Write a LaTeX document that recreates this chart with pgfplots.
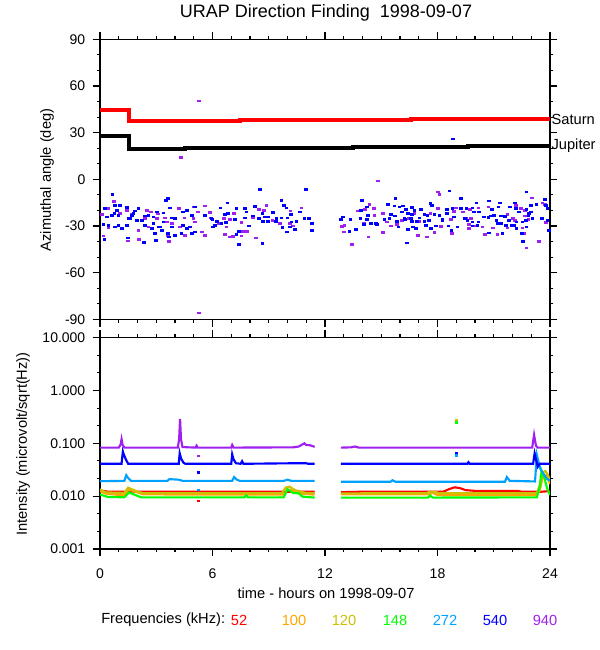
\documentclass[border=0pt]{standalone}
\usepackage{fontspec}
\setmainfont{Liberation Sans}
\usepackage{pgfplots}
\pgfplotsset{compat=1.18}
\definecolor{cRed}{RGB}{255,0,0}
\definecolor{cOrange}{RGB}{255,165,0}
\definecolor{cOlive}{RGB}{204,192,0}
\definecolor{cGreen}{RGB}{0,255,0}
\definecolor{cLBlue}{RGB}{0,160,255}
\definecolor{cBlue}{RGB}{0,0,255}
\definecolor{cPurple}{RGB}{160,32,240}
\pgfplotsset{
  urap/.style={
    scale only axis, width=337.5pt, xmin=0, xmax=24,
    axis line style={line width=0.8pt},
    tick align=outside, major tick length=5.5pt, minor tick length=2.6pt,
    every tick/.style={black, line width=0.8pt},
    xtick={0,6,12,18,24}, minor xtick={1,2,3,4,5,7,8,9,10,11,13,14,15,16,17,19,20,21,22,23},
    tick label style={font=\fontsize{10.5}{12}\selectfont},
    xticklabel style={yshift=-6pt},
    yticklabel style={xshift=-2pt},
    /pgf/number format/assume math mode=true,
    xtick pos=both, ytick pos=both, yticklabel pos=left,
    clip=true,
  },
  dots/.style={only marks, mark=square*, mark size=1pt, mark options={yscale=0.6}},
}
\begin{document}
\begin{tikzpicture}
\path[use as bounding box] (0,0) rectangle (450pt,487.5pt);
% ---------------- top panel
\begin{axis}[urap, at={(75pt,248pt)}, anchor=south west, height=210pt,
  ymin=-90, ymax=90, ytick={-90,-60,-30,0,30,60,90},
  yticklabels={-90,-60,-30,0,30,60,90},
  minor ytick={-80,-70,-50,-40,-20,-10,10,20,40,50,70,80},
  xticklabels={}, clip=false]
\addplot[cPurple, dots] coordinates {
(0.74,-14.0)(0.09,-22.3)(0.41,-18.7)(1.42,-19.8)(1.68,-22.6)(1.06,-21.9)(2.39,-25.1)(2.71,-20.8)(3.07,-22.1)(3.46,-24.7)(3.81,-28.4)(4.20,-18.7)(4.49,-24.7)(4.97,-17.6)(5.23,-20.8)(5.59,-17.0)(5.85,-21.3)(5.90,-24.7)(4.97,-25.1)(5.05,-27.3)(4.26,-30.5)(3.63,-35.9)(0.44,-31.1)(2.04,-32.6)(2.57,-30.5)(3.55,-27.3)(0.18,-36.3)(1.47,-39.5)(2.07,-38.4)(3.67,-39.7)(4.52,-35.9)(5.59,-35.9)(5.41,-33.7)(3.01,-25.1)(2.48,-19.8)
(8.87,-16.6)(8.47,-19.1)(8.72,-19.8)(10.73,-18.3)(10.14,-20.2)(7.15,-21.9)(6.60,-25.1)(6.91,-25.6)(6.35,-28.4)(6.74,-30.5)(7.53,-27.7)(8.16,-24.7)(9.18,-26.2)(9.57,-28.4)(10.11,-28.4)(10.28,-29.9)(7.62,-33.3)(7.84,-33.3)(7.53,-36.3)(7.09,-36.5)(6.91,-36.9)(6.65,-35.4)(8.30,-37.6)
(14.81,-0.9)(18.00,-8.0)(18.09,-9.7)(14.36,-16.1)(14.59,-18.7)(14.13,-19.3)(13.74,-20.2)(14.63,-23.0)(15.07,-21.9)(15.28,-27.3)(15.51,-29.9)(15.83,-29.0)(16.08,-26.2)(16.44,-25.1)(16.76,-21.9)(17.02,-26.9)(17.29,-22.6)(17.61,-21.9)(18.00,-18.7)(18.14,-30.5)(17.82,-34.1)(16.93,-35.9)(17.43,-36.9)(13.03,-29.4)(12.89,-30.1)(13.00,-33.7)(13.42,-41.9)(14.31,-36.9)(15.07,-34.1)(14.06,-28.4)
(23.01,-11.8)(23.58,-15.0)(23.72,-16.1)(22.16,-16.6)(22.43,-18.7)(21.72,-22.6)(22.66,-19.8)(20.71,-17.6)(20.18,-18.3)(18.97,-18.3)(19.72,-19.3)(19.33,-20.8)(19.51,-24.7)(19.77,-25.1)(18.88,-20.4)(18.71,-25.6)(18.17,-30.1)(19.65,-29.0)(19.68,-31.6)(19.95,-29.9)(20.39,-30.5)(20.96,-31.1)(21.72,-31.1)(22.52,-31.1)(22.02,-25.1)(22.13,-26.2)(22.66,-23.4)(22.84,-25.6)(23.76,-27.7)(18.76,-34.8)(20.53,-35.4)(21.19,-35.4)(22.61,-34.8)(23.40,-39.7)(22.73,-44.0)
(5.28,50.6)(5.28,-85.8)(4.3,14.1)
};
\addplot[cBlue, dots] coordinates {
(0.66,-9.7)(0.27,-18.7)(0.80,-16.6)(1.06,-16.6)(1.42,-18.1)(2.04,-18.7)(1.86,-20.2)(0.76,-21.9)(0.62,-23.0)(0.35,-24.1)(0.98,-23.0)(1.68,-23.0)(2.39,-23.4)(2.57,-23.0)(2.84,-24.1)(3.01,-20.8)(3.37,-21.5)(3.72,-18.3)(3.63,-12.3)(3.51,-13.5)(3.81,-24.7)(3.99,-25.1)(4.43,-20.8)(4.61,-19.8)(4.88,-23.0)(5.05,-17.6)(5.59,-23.0)(5.94,-25.1)(0.18,-29.0)(0.44,-29.4)(0.80,-30.5)(0.98,-29.4)(1.15,-31.6)(1.42,-29.4)(2.39,-29.4)(2.84,-28.4)(3.10,-30.5)(3.37,-27.3)(3.19,-30.5)(3.81,-30.5)(4.43,-29.4)(4.61,-31.6)(4.79,-30.5)(5.05,-33.7)(4.88,-34.8)(6.03,-30.5)(2.93,-34.8)(3.28,-32.6)(3.63,-34.8)(3.99,-35.9)(4.34,-34.8)(0.23,-38.4)(1.47,-37.6)(2.34,-40.6)(2.98,-39.1)(3.67,-36.9)(2.75,-31.6)(1.77,-21.9)(2.22,-26.2)(1.95,-26.2)(1.60,-25.1)(1.51,-25.1)(0.89,-19.8)
(8.51,-6.5)(10.99,-6.5)(6.79,-15.0)(7.27,-18.7)(6.42,-18.3)(7.71,-18.7)(8.24,-17.2)(9.66,-13.3)(9.79,-16.6)(9.93,-18.3)(10.16,-22.6)(10.64,-20.8)(9.22,-21.3)(8.65,-21.9)(8.78,-24.1)(8.95,-24.1)(8.47,-25.1)(7.80,-20.8)(8.16,-23.4)(7.71,-24.7)(7.18,-25.6)(6.83,-21.9)(6.65,-22.6)(6.21,-26.9)(5.99,-25.6)(6.12,-29.4)(6.70,-27.7)(6.47,-28.4)(7.41,-33.3)(7.27,-35.4)(7.94,-29.9)(8.69,-26.9)(8.95,-26.9)(9.40,-25.1)(9.66,-24.7)(9.36,-26.9)(9.98,-24.7)(10.20,-27.3)(10.11,-30.5)(10.46,-26.9)(10.37,-32.0)(10.90,-25.1)(11.13,-25.1)(11.29,-28.4)(11.31,-32.6)(9.72,-30.7)(9.96,-33.7)(7.41,-41.9)(8.65,-41.2)
(13.97,-13.3)(12.94,-24.1)(12.85,-25.6)(13.35,-25.6)(13.88,-25.1)(13.92,-19.8)(14.24,-17.6)(14.27,-23.0)(14.06,-29.0)(14.45,-28.4)(14.72,-28.4)(13.30,-33.3)(13.65,-32.0)(15.74,-12.3)(15.69,-17.0)(15.34,-16.1)(15.96,-17.6)(16.13,-17.0)(16.31,-19.3)(16.61,-18.1)(16.76,-19.8)(17.11,-19.1)(16.10,-20.8)(16.61,-22.3)(16.40,-21.9)(15.51,-22.6)(15.73,-23.4)(15.16,-25.6)(15.43,-25.1)(16.22,-24.7)(16.58,-25.1)(17.02,-24.7)(17.29,-22.6)(17.46,-23.0)(17.61,-15.5)(17.68,-16.6)(17.82,-22.6)(18.09,-23.0)(18.26,-25.6)(15.83,-26.9)(16.26,-25.6)(16.61,-26.9)(16.90,-26.9)(17.29,-26.9)(17.55,-26.2)(15.90,-30.5)(16.40,-32.0)(16.67,-30.5)(16.84,-31.6)(17.38,-29.4)(17.64,-31.6)(17.91,-29.9)(14.77,-29.0)(16.37,-40.8)(14.24,-25.6)
(18.62,-7.3)(19.24,-12.3)(20.07,-15.0)(20.74,-13.8)(21.31,-15.0)(21.24,-17.6)(21.84,-17.6)(22.13,-15.0)(22.73,-8.0)(22.96,-16.6)(23.26,-16.1)(23.72,-12.9)(23.76,-16.6)(23.85,-18.7)(18.48,-19.3)(18.48,-21.9)(18.79,-18.7)(19.24,-18.7)(19.54,-18.7)(19.86,-18.3)(19.95,-20.8)(20.21,-20.8)(20.89,-19.1)(20.83,-23.4)(21.01,-23.0)(21.37,-23.4)(21.60,-23.6)(22.16,-18.7)(22.34,-20.8)(22.73,-19.1)(22.87,-21.9)(22.96,-20.8)(18.26,-26.2)(18.58,-29.9)(18.88,-24.1)(19.47,-25.1)(19.59,-26.2)(19.86,-27.3)(20.12,-29.4)(20.18,-27.3)(20.48,-24.1)(20.71,-24.5)(21.13,-26.2)(21.19,-28.4)(21.37,-28.4)(21.63,-29.4)(21.95,-29.4)(22.07,-29.4)(22.20,-27.3)(22.52,-27.3)(22.70,-26.2)(22.84,-23.0)(23.05,-25.1)(23.55,-25.1)(23.85,-26.2)(18.74,-32.6)(19.06,-30.5)(20.74,-34.4)(21.45,-34.8)(22.20,-31.6)(22.73,-30.5)(22.48,-34.8)(23.94,-32.6)(22.55,-39.7)(19.86,-29.9)(21.81,-26.2)(18.8,26.1)
};
\addplot[cRed, line width=3pt, const plot] coordinates {(0,44.5)(1.52,37.3)(7.49,38.1)(16.6,38.8)(24,38.8)};
\addplot[black, line width=3pt, const plot] coordinates {(0,27.8)(1.52,19.3)(4.51,20.1)(13.5,20.8)(19.6,21.6)(24,21.6)};
\node[anchor=west, inner sep=1pt, font=\fontsize{11}{13}\selectfont] at (axis cs:24,38.8) {Saturn};
\node[anchor=west, inner sep=1pt, font=\fontsize{11}{13}\selectfont] at (axis cs:24,21.6) {Jupiter};
\end{axis}
% ---------------- bottom panel
\begin{axis}[urap, at={(75pt,75.75pt)}, anchor=south west, height=158.5pt,
  ymode=log, ymin=0.001, ymax=10,
  ytick={0.001,0.01,0.1,1,10}, yticklabels={0.001,0.010,0.100,1.000,10.000},
  minor ytick={0.002154,0.004642,0.02154,0.04642,0.2154,0.4642,2.154,4.642},
  xticklabels={0,6,12,18,24}]
% 52 kHz
\addplot[cRed, line width=1.6pt] coordinates {(0,0.0128)(0.4,0.0122)(11.45,0.0121)};
\addplot[cRed, line width=1.6pt] coordinates {(12.85,0.0119)(13.8,0.0121)(18.3,0.0121)(18.6,0.0135)(18.9,0.0147)(19.2,0.0142)(19.5,0.0130)(20,0.0126)(22.3,0.0125)(22.5,0.0121)(23.5,0.0121)(24,0.0125)};
% 100 kHz
\addplot[cOrange, line width=1.6pt] coordinates {(0,0.0125)(0.3,0.0112)(1.3,0.0103)(1.5,0.0135)(1.8,0.0125)(2.3,0.0108)(9.8,0.0107)(10.0,0.0135)(10.3,0.0125)(10.7,0.0112)(11.45,0.0107)};
\addplot[cOrange, line width=1.6pt] coordinates {(12.85,0.0108)(17.6,0.0108)(17.7,0.0118)(18.0,0.0105)(23.2,0.0105)(23.45,0.0125)(23.6,0.022)(23.8,0.025)(24,0.017)};
% 120 kHz
\addplot[cOlive, line width=1.6pt] coordinates {(0,0.0135)(0.3,0.0118)(1.3,0.0115)(1.5,0.0145)(1.7,0.0135)(2.0,0.0122)(2.3,0.0114)(9.7,0.0114)(9.9,0.0145)(10.1,0.0152)(10.4,0.013)(10.7,0.0122)(11.0,0.0115)(11.45,0.0114)};
\addplot[cOlive, line width=1.6pt] coordinates {(12.85,0.0113)(17.4,0.0114)(17.6,0.0122)(17.9,0.012)(18.1,0.0114)(23.3,0.0114)(23.45,0.016)(23.6,0.028)(23.75,0.030)(23.9,0.025)(24,0.019)};
% 148 kHz
\addplot[cGreen, line width=1.6pt] coordinates {(0,0.0108)(0.4,0.0097)(1.3,0.0095)(1.55,0.0118)(1.8,0.0108)(2.2,0.0095)(7.7,0.0095)(7.8,0.0103)(7.9,0.0095)(9.8,0.0095)(10.0,0.0135)(10.3,0.0115)(10.6,0.0113)(10.8,0.0098)(11.45,0.0094)};
\addplot[cGreen, line width=1.6pt] coordinates {(12.85,0.0094)(17.5,0.0094)(17.6,0.0103)(17.75,0.0094)(23.3,0.0095)(23.45,0.015)(23.55,0.030)(23.7,0.022)(23.85,0.014)(24,0.0105)};
% 272 kHz
\addplot[cLBlue, line width=1.6pt] coordinates {(0,0.0192)(1.3,0.0195)(1.4,0.025)(1.5,0.022)(1.65,0.0195)(3.6,0.0195)(3.7,0.021)(4.2,0.0205)(4.4,0.0195)(7.05,0.0195)(7.15,0.023)(7.3,0.0205)(7.45,0.0195)(9.8,0.0195)(10.0,0.0205)(10.2,0.0195)(11.45,0.0195)};
\addplot[cLBlue, line width=1.6pt] coordinates {(12.85,0.0187)(15.5,0.0188)(15.6,0.02)(15.75,0.0188)(21.6,0.0188)(21.7,0.023)(21.85,0.0195)(23.2,0.019)(23.3,0.06)(23.38,0.045)(23.5,0.032)(23.7,0.025)(23.85,0.021)(24,0.02)};
% 540 kHz
\addplot[cBlue, line width=1.6pt] coordinates {(0,0.041)(1.15,0.041)(1.22,0.07)(1.28,0.06)(1.4,0.048)(1.5,0.041)(4.2,0.041)(4.25,0.065)(4.32,0.052)(4.45,0.043)(4.55,0.041)(7.0,0.041)(7.05,0.062)(7.12,0.05)(7.25,0.042)(7.5,0.041)(7.58,0.046)(7.65,0.041)(10.4,0.042)(11.0,0.042)(11.1,0.041)(11.45,0.041)};
\addplot[cBlue, line width=1.6pt] coordinates {(12.85,0.041)(19.6,0.041)(19.65,0.044)(19.72,0.041)(23.1,0.041)(23.18,0.065)(23.25,0.05)(23.35,0.036)(23.45,0.041)(24,0.041)};
% 940 kHz
\addplot[cPurple, line width=1.6pt] coordinates {(0,0.083)(1.0,0.083)(1.1,0.095)(1.15,0.12)(1.2,0.095)(1.3,0.083)(4.15,0.083)(4.22,0.12)(4.27,0.29)(4.32,0.12)(4.4,0.085)(5.1,0.083)(5.15,0.09)(5.2,0.083)(7.0,0.083)(7.05,0.093)(7.12,0.083)(10.3,0.084)(10.6,0.087)(10.9,0.1)(11.0,0.093)(11.2,0.092)(11.45,0.086)};
\addplot[cPurple, line width=1.6pt] coordinates {(12.85,0.083)(13.4,0.084)(13.6,0.087)(13.8,0.083)(23.05,0.083)(23.15,0.145)(23.25,0.09)(23.35,0.083)(24,0.083)};
% isolated points
\addplot[cPurple, dots] coordinates {(5.24,0.058)};
\addplot[cBlue, dots] coordinates {(5.24,0.028)(19.0,0.065)};
\addplot[cLBlue, dots] coordinates {(5.24,0.0132)(19.0,0.06)};
\addplot[cRed, dots] coordinates {(5.24,0.0082)};
\addplot[cOlive, dots] coordinates {(19.0,0.27)};
\addplot[cGreen, dots] coordinates {(19.0,0.25)};
\end{axis}
% ---------------- texts
\node[font=\fontsize{13.5}{16}\selectfont] at (244.5pt,477.75pt) {URAP Direction Finding\ \ 1998-09-07};
\node[rotate=90, font=\fontsize{11}{13}\selectfont] at (35.25pt,352.5pt) {Azimuthal angle (deg)};
\node[rotate=90, font=\fontsize{11}{13}\selectfont] at (17.25pt,154.5pt) {Intensity (microvolt/sqrt(Hz))};
\node[font=\fontsize{11}{13}\selectfont] at (244.5pt,42.75pt) {time - hours on 1998-09-07};
\node[anchor=west, inner sep=0pt, font=\fontsize{11}{13}\selectfont] at (75.75pt,22.5pt) {Frequencies (kHz):};
\node[font=\fontsize{11}{13}\selectfont, text=cRed] at (179.25pt,22.5pt) {52};
\node[font=\fontsize{11}{13}\selectfont, text=cOrange] at (220.5pt,22.5pt) {100};
\node[font=\fontsize{11}{13}\selectfont, text=cOlive] at (258pt,22.5pt) {120};
\node[font=\fontsize{11}{13}\selectfont, text=cGreen] at (296.25pt,22.5pt) {148};
\node[font=\fontsize{11}{13}\selectfont, text=cLBlue] at (333.75pt,22.5pt) {272};
\node[font=\fontsize{11}{13}\selectfont, text=cBlue] at (371.25pt,22.5pt) {540};
\node[font=\fontsize{11}{13}\selectfont, text=cPurple] at (408.75pt,22.5pt) {940};
\end{tikzpicture}
\end{document}
